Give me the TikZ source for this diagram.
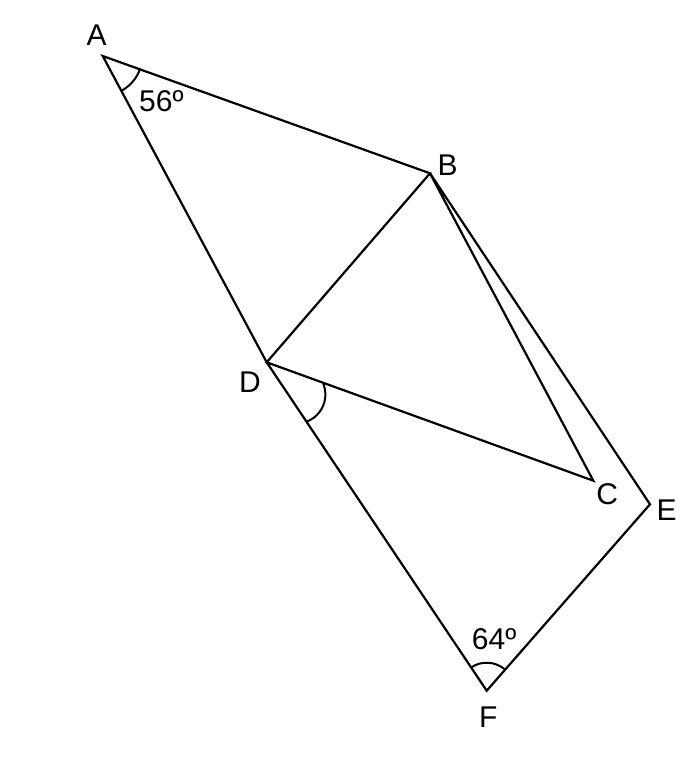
\documentclass[tikz,border=0pt]{standalone}
\usepackage{fontspec}
\setmainfont{Liberation Sans}
\usetikzlibrary{calc}
\begin{document}
\begin{tikzpicture}[x=1pt,y=-1pt,
  edge/.style={line width=2.2pt,line join=miter},
  anglearc/.style={line width=2pt},
  lbl/.style={inner sep=0pt,font=\fontsize{30}{36}\selectfont}]
\useasboundingbox (0,0) rectangle (700,760);
\coordinate (A) at (102.7,56);
\coordinate (B) at (430,173.3);
\coordinate (D) at (266.7,362.3);
\coordinate (C) at (593.3,480.7);
\coordinate (E) at (650,504.3);
\coordinate (F) at (486.7,690.7);
\draw[edge] (D) -- (A) -- (B) -- (D) -- (C) -- (B) -- (E) -- (F) -- cycle;
% angle arcs (angles measured with y pointing down)
\draw[anglearc] ($(A)+(19.7:39.5)$) arc[start angle=19.7,end angle=61.8,radius=39.5];
\coordinate (Dc) at (296.4,394.5);
\draw[anglearc] ($(Dc)+(-22.6:29)$) arc[start angle=-22.6,end angle=69.3,radius=29];
\draw[anglearc] ($(F)+(-48.8:28)$) arc[start angle=-48.8,end angle=-124,radius=28];
% labels
\node[lbl] (lA) at (96.7,35) {A};
\node[lbl] (lB) at (447.5,164.7) {B};
\node[lbl] (lD) at (250,382.3) {D};
\node[lbl] (lC) at (607.3,494) {C};
\node[lbl] (lE) at (666.7,510) {E};
\node[lbl] (lF) at (488.3,716.7) {F};
\node[lbl,anchor=base west] (a56) at (139,111) {56º};
\node[lbl,anchor=base west] (a64) at (471.7,649.3) {64º};
\end{tikzpicture}
\end{document}
